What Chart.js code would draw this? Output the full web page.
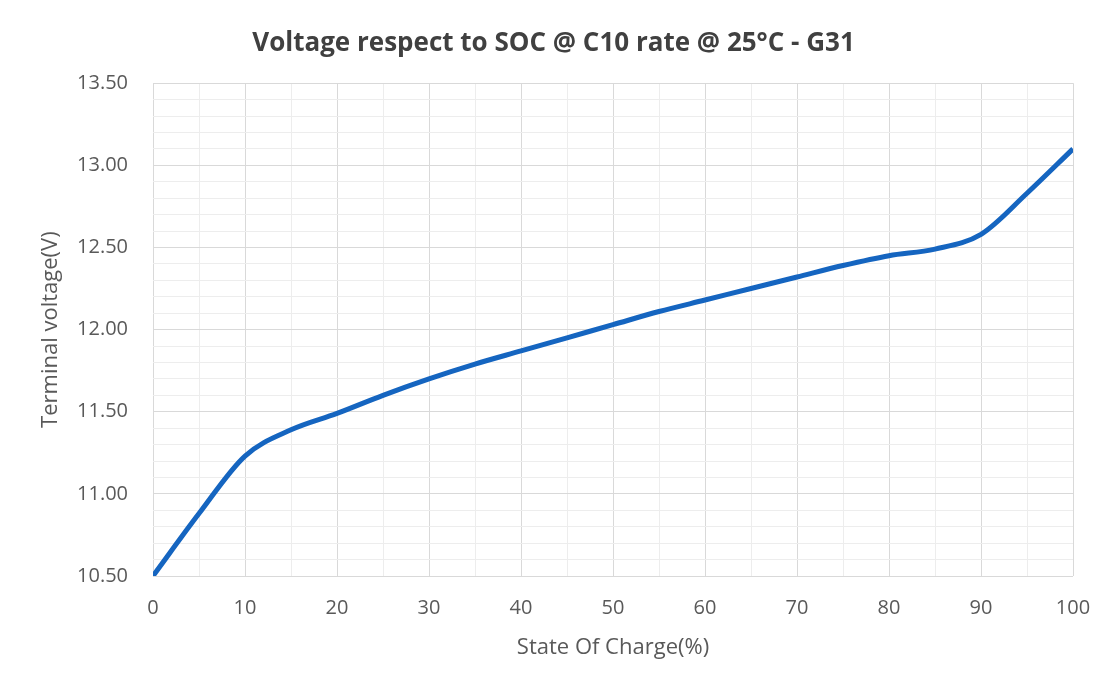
<!DOCTYPE html>
<html>
<head>
<meta charset="utf-8">
<script src="https://cdn.jsdelivr.net/npm/chart.js@4"></script>
<style>
  html, body { margin: 0; padding: 0; background: #fff; }
  #wrap { position: relative; width: 1103px; height: 673px; }
</style>
</head>
<body>
<div id="wrap"><canvas id="socChart" width="1103" height="673"></canvas></div>
<script>
// state of charge (%) and terminal voltage (V)
const soc = [0, 5, 10, 15, 20, 25, 30, 35, 40, 45, 50, 55, 60, 65, 70, 75, 80, 85, 90, 95, 100];
const voltage = [10.50, 10.88, 11.23, 11.39, 11.49, 11.60, 11.70, 11.79, 11.87, 11.95, 12.03, 12.11, 12.18, 12.25, 12.32, 12.39, 12.45, 12.49, 12.58, 12.83, 13.10];

const titleText = 'Voltage respect to SOC @ C10 rate @ 25°C - G31';
const xTitle = 'State Of Charge(%)';
const yTitle = 'Terminal voltage(V)';

const fontFam = '"Open Sans", "Liberation Sans", sans-serif';

let ctx = document.getElementById('socChart').getContext('2d');
let chart = new Chart(ctx, {
    type: 'line',
    data: {
        datasets: [{
            data: soc.map((s, i) => ({ x: s, y: voltage[i] })),
            borderColor: '#1565c0',
            borderWidth: 5,
            pointRadius: 0,
            cubicInterpolationMode: 'monotone',
            fill: false
        }]
    },
    options: {
        responsive: false,
        animation: false,
        layout: { padding: { left: 34, right: 30, top: 0, bottom: 8 } },
        plugins: {
            legend: { display: false },
            tooltip: { enabled: false },
            title: {
                display: true,
                text: titleText,
                color: '#404040',
                font: { family: fontFam, size: 26, weight: 'bold', lineHeight: 1.2 },
                padding: { top: 28, bottom: 24 }
            }
        },
        scales: {
            x: {
                type: 'linear',
                min: 0,
                max: 100,
                ticks: {
                    stepSize: 5,
                    autoSkip: false,
                    maxRotation: 0,
                    color: '#595959',
                    font: { family: fontFam, size: 20 },
                    padding: 20,
                    callback: v => (v % 10 === 0 ? String(v) : '')
                },
                grid: {
                    color: c => (c.tick && c.tick.value % 10 === 0 ? '#d9d9d9' : '#ededed'),
                    drawTicks: false
                },
                border: { display: false },
                title: {
                    display: true,
                    text: xTitle,
                    color: '#595959',
                    font: { family: fontFam, size: 22 },
                    padding: { top: 2 }
                },
                afterFit: s => { s.height = 89; s.paddingRight = 0; s.paddingLeft = 0; }
            },
            y: {
                min: 10.5,
                max: 13.5,
                ticks: {
                    stepSize: 0.1,
                    autoSkip: false,
                    color: '#595959',
                    font: { family: fontFam, size: 20 },
                    padding: 25,
                    callback: v => (Math.abs(v * 2 - Math.round(v * 2)) < 1e-6 ? v.toFixed(2) : '')
                },
                grid: {
                    color: c => (c.tick && Math.abs(c.tick.value * 2 - Math.round(c.tick.value * 2)) < 1e-6 ? '#d9d9d9' : '#ededed'),
                    drawTicks: false
                },
                border: { display: false },
                title: {
                    display: true,
                    text: yTitle,
                    color: '#595959',
                    font: { family: fontFam, size: 22 },
                    padding: { bottom: 4 }
                },
                afterFit: s => { s.width = 119; s.paddingTop = 0; s.paddingBottom = 0; }
            }
        }
    }
});
</script>
</body>
</html>
